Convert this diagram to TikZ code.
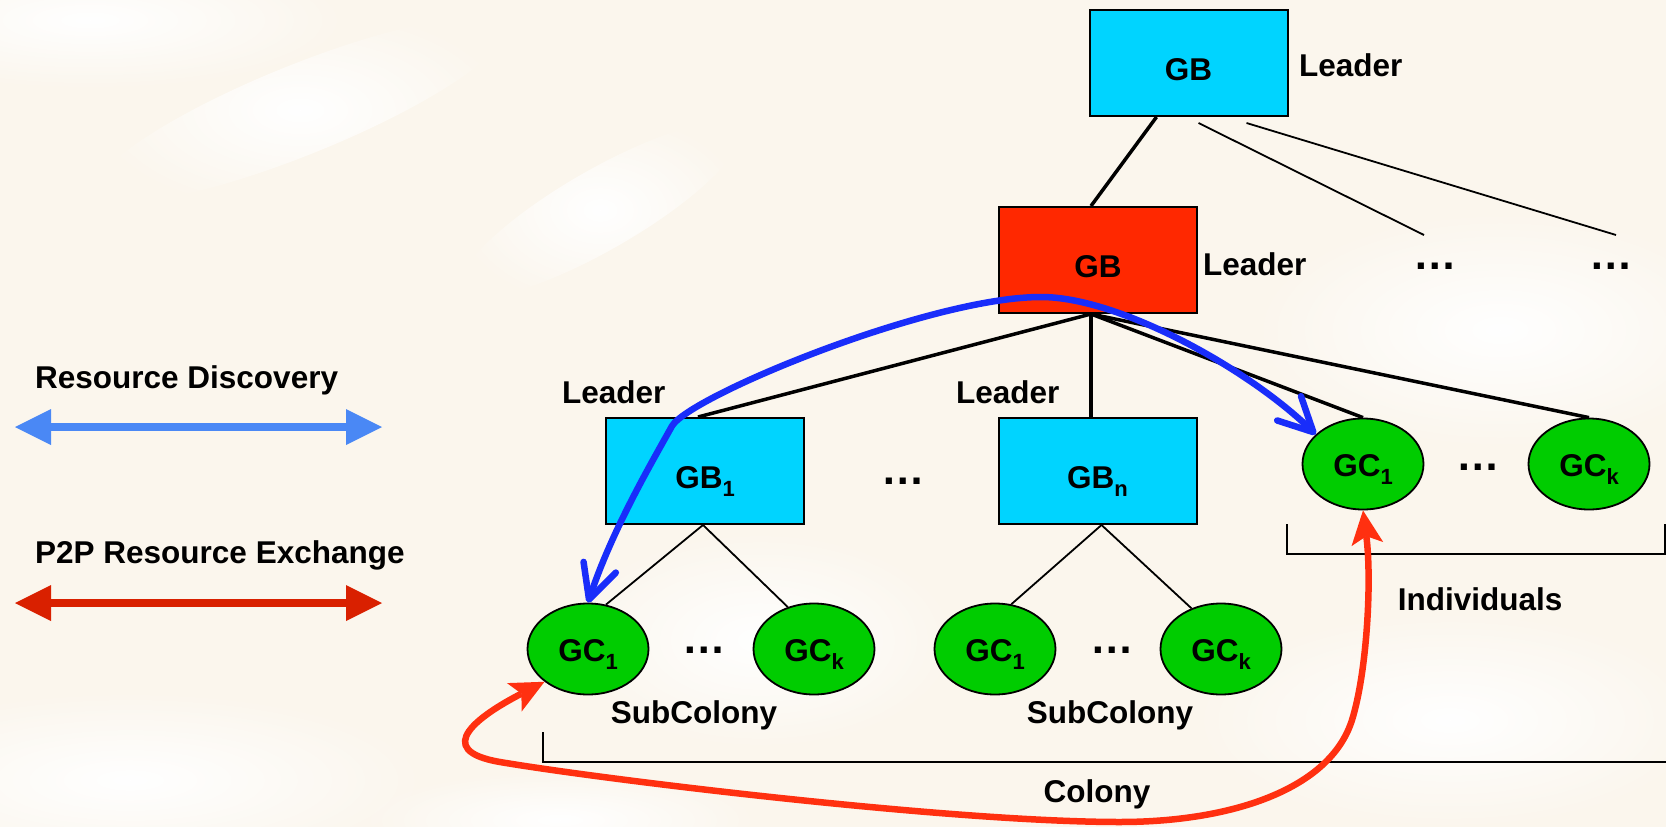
\documentclass[tikz,border=0pt]{standalone}
\usepackage{fontspec}
\setmainfont{Liberation Sans}
\usetikzlibrary{arrows.meta,shapes.geometric,fadings}

\definecolor{paper}{RGB}{251,246,237}
\definecolor{gbcyan}{RGB}{0,212,255}
\definecolor{gbred}{RGB}{255,40,0}
\definecolor{gcgreen}{RGB}{0,204,0}
\definecolor{discblue}{RGB}{25,45,250}
\definecolor{exchred}{RGB}{255,48,16}
\definecolor{legblue}{RGB}{74,136,245}
\definecolor{legred}{RGB}{217,32,0}

% lowered index used in the node names
\newcommand\idx[1]{\raisebox{-8pt}{\fontsize{22}{22}\selectfont #1}}

\tikzfading[name=softglow, inner color=transparent!0, outer color=transparent!100]

\tikzset{
  txt/.style={font=\fontsize{31.5}{36}\selectfont\bfseries, inner sep=0pt},
  gbox/.style={txt, draw=black, line width=2pt, minimum width=198pt,
    minimum height=106pt, text height=34pt, text depth=0pt},
  gcell/.style={txt, ellipse, draw=black, line width=1.8pt, fill=gcgreen,
    minimum width=121pt, minimum height=91pt, text height=24pt, text depth=0pt},
  dotsep/.style={inner sep=0pt, anchor=base, font=\fontsize{43.5}{44}\selectfont\bfseries},
  heavy/.style={line width=3.5pt},
  light/.style={line width=1.8pt},
  glow/.style={white, path fading=softglow},
  discovery/.style={discblue, line width=6.5pt, line cap=round,
    {Straight Barb[length=34pt,width=34pt,round]}-{Straight Barb[length=34pt,width=34pt,round]}},
  exchange/.style={exchred, line width=6.5pt,
    {Stealth[length=34pt,width=32pt,inset=8pt,line width=0pt]}-{Stealth[length=34pt,width=32pt,inset=8pt,line width=0pt]}},
  legarrow/.style={line width=8pt,
    {Triangle[length=36pt,width=36pt,line width=0pt]}-{Triangle[length=36pt,width=36pt,line width=0pt]}},
}

\begin{document}
\begin{tikzpicture}[x=1pt,y=-1pt]
% paper with soft light streaks
\fill[paper] (0,0) rectangle (1666,827);
\useasboundingbox (0,0) rectangle (1666,827);
\fill[glow] (90,20) ellipse [x radius=260, y radius=70];
\fill[glow, rotate around={22:(300,110)}] (300,110) ellipse [x radius=220, y radius=45];
\fill[glow, rotate around={30:(600,210)}] (600,210) ellipse [x radius=160, y radius=40];
\fill[glow] (130,780) ellipse [x radius=300, y radius=90];
\fill[glow] (560,820) ellipse [x radius=200, y radius=50];
\fill[glow] (1500,330) ellipse [x radius=250, y radius=120];
\fill[glow] (1450,720) ellipse [x radius=260, y radius=110];
\fill[glow] (760,640) ellipse [x radius=200, y radius=110];

% bridge boxes
\node[gbox, fill=gbcyan] (top) at (1188.5,63) {GB};
\node[gbox, fill=gbred]  (mid) at (1098,260) {GB};
\node[gbox, fill=gbcyan] (gb1) at (705,471) {GB\idx{1}};
\node[gbox, fill=gbcyan] (gbn) at (1097.5,471) {GB\idx{n}};

% clients
\node[gcell] (s1a) at (588,649) {GC\idx{1}};
\node[gcell] (s1k) at (814,649) {GC\idx{k}};
\node[gcell] (s2a) at (995,649) {GC\idx{1}};
\node[gcell] (s2k) at (1221,649) {GC\idx{k}};
\node[gcell] (i1)  at (1363,464) {GC\idx{1}};
\node[gcell] (ik)  at (1589,464) {GC\idx{k}};

% tree links
\coordinate (hub) at ([xshift=-7pt]mid.south);
\coordinate (far1) at (1424,235);
\coordinate (far2) at (1616,235);
\draw[heavy] ([xshift=-32pt]top.south) -- ([xshift=-7pt]mid.north);
\draw[light] ([xshift=10pt,yshift=-6pt]top.south) -- (far1);
\draw[light] ([xshift=58pt,yshift=-6pt]top.south) -- (far2);
\draw[heavy] (hub) -- ([xshift=-7pt]gb1.north);
\draw[heavy] (hub) -- (hub |- gbn.north);
\draw[heavy] (hub) -- (i1.north);
\draw[heavy] (hub) -- (ik.north);
\draw[light] ([xshift=-2pt]gb1.south) -- (s1a.68);
\draw[light] ([xshift=-2pt]gb1.south) -- (s1k.122);
\draw[light] ([xshift=4pt]gbn.south) -- (s2a.70);
\draw[light] ([xshift=4pt]gbn.south) -- (s2k.126);

% group brackets
\draw[light] (543,732) -- (543,762) -- (1666,762);
\draw[light] (1287,524) -- (1287,554) -- (1665,554) -- (1665,524);

% labels
\node[txt, anchor=base west] (ldr0) at (1299,76) {Leader};
\node[txt, anchor=base west] (ldr1) at (1203,275) {Leader};
\node[txt, anchor=base west] (ldr2) at (562,403) {Leader};
\node[txt, anchor=base west] (ldr3) at (956,403) {Leader};
\node[txt, anchor=base] (sub1) at (694,723) {SubColony};
\node[txt, anchor=base] (sub2) at (1110,723) {SubColony};
\node[txt, anchor=base] (col) at (1097,802) {Colony};
\node[txt, anchor=base] (ind) at (1480,610) {Individuals};

% ellipses
\node[dotsep] (d1) at (1435,269) {…};
\node[dotsep] (d2) at (1611,269) {…};
\node[dotsep] (d3) at (903,484) {…};
\node[dotsep] (d4) at (704,653) {…};
\node[dotsep] (d5) at (1112,653) {…};
\node[dotsep] (d6) at (1478,470) {…};

% legend
\node[txt, anchor=base west] (lg1) at (35,388) {Resource Discovery};
\node[txt, anchor=base west] (lg2) at (35,563) {P2P Resource Exchange};
\coordinate (lb1) at (15,427);
\coordinate (lb2) at (382,427);
\coordinate (lr1) at (15,603);
\coordinate (lr2) at (382,603);
\draw[legarrow, legblue] (lb1) -- (lb2);
\draw[legarrow, legred] (lr1) -- (lr2);

% resource discovery path
\draw[discovery] (s1a.north)
  .. controls (612,530) and (652,462) .. (672,426)
  .. controls (690,396) and (930,297) .. (1041,297)
  .. controls (1120,297) and (1250,370) .. (i1.148);

% peer-to-peer exchange path
\draw[exchange] (s1a.217)
  .. controls (480,715) and (430,750) .. (500,762)
  .. controls (600,779) and (950,822) .. (1120,822)
  .. controls (1230,822) and (1330,790) .. (1352,720)
  .. controls (1367,672) and (1372,580) .. (i1.south);
\end{tikzpicture}
\end{document}
